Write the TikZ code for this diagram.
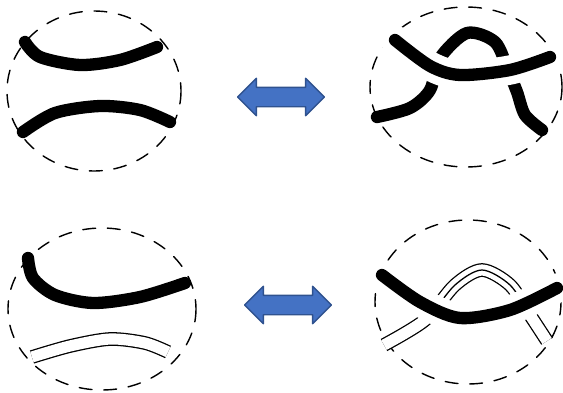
\documentclass[tikz,border=0pt]{standalone}
\usepackage{tikz}
\usetikzlibrary{shapes.arrows}

\definecolor{arrowblue}{HTML}{4472C4}
\definecolor{arrowedge}{HTML}{2F528F}

\begin{document}
\begin{tikzpicture}[x=0.03cm, y=-0.03cm, line cap=round, line join=round,
  strand/.style={line width=10.5pt},
  gapstrand/.style={line width=10.5pt, preaction={draw=white, line width=25pt}},
  ribbon/.style={line width=1.1pt, line cap=butt, double=white, double distance=9.5pt},
  thinline/.style={line width=1.1pt},
  ball/.style={dashed, line width=1.2pt, dash pattern=on 11pt off 10pt},
  swap/.style={double arrow, draw=arrowedge, fill=arrowblue, line width=1.2pt,
    minimum height=2.6cm, double arrow head extend=0.27cm,
    inner xsep=0pt, inner ysep=0.27cm}]
  \useasboundingbox (0,0) rectangle (563,392);

  % Centres of the four balls
  \coordinate (B1) at (94,91);
  \coordinate (B2) at (466,87);
  \coordinate (B3) at (102,309);
  \coordinate (B4) at (468,302);

  % Dashed balls
  \draw[ball] (B1) ellipse [x radius=87, y radius=80];
  \draw[ball] (B2) ellipse [x radius=96, y radius=80];
  \draw[ball] (B3) ellipse [x radius=94, y radius=81];
  \draw[ball] (B4) ellipse [x radius=93, y radius=82];

  % Top left: two parallel strands
  \draw[strand] plot[smooth] coordinates {(25,42) (40,57) (80,65) (120,60) (157,47)};
  \draw[strand] plot[smooth] coordinates {(23,132) (55,113) (100,106) (140,110) (170,122)};

  % Top right: arch passing under the strand
  \draw[strand] plot[smooth] coordinates {(377,117) (410,108) (430,90) (440,58) (467,33) (495,42) (508,70) (517,92) (525,115) (542,130)};
  \draw[gapstrand] plot[smooth] coordinates {(395,40) (430,66) (460,75) (510,70) (550,57)};

  % Bottom left: strand and ribbon
  \draw[strand] plot[smooth] coordinates {(28,258) (33,278) (55,295) (93,303) (140,297) (185,283)};
  \draw[ribbon] plot[smooth] coordinates {(32,357) (70,346) (110,339) (145,343) (168,352)};

  % Bottom right: ribbon arch under the strand
  \draw[ribbon] plot[smooth] coordinates {(384,345) (425,320) (455,285) (482,270) (510,285) (530,315) (547,341)};
  \begin{scope}
    \clip (400,220) rectangle (560,300);
    \draw[thinline] plot[smooth] coordinates {(384,345) (425,320) (455,285) (482,270) (510,285) (530,315) (547,341)};
  \end{scope}
  \draw[gapstrand] plot[smooth] coordinates {(382,275) (420,302) (460,318) (510,310) (557,288)};

  % Double arrows
  \node[swap] (swaptop) at (281,97) {};
  \node[swap] (swapbot) at (288,305) {};
\end{tikzpicture}
\end{document}
